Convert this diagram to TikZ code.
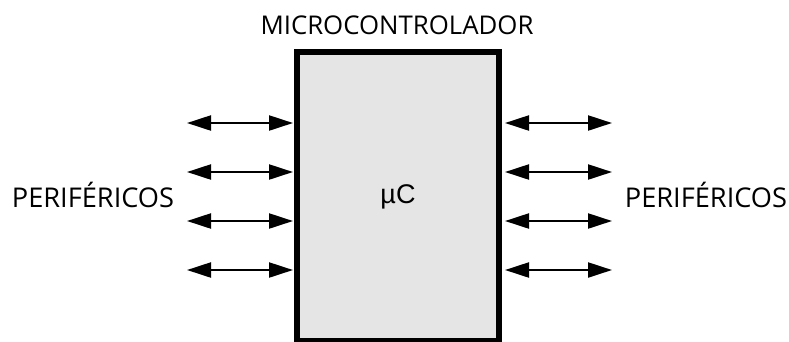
\documentclass[tikz,border=0pt]{standalone}
\usepackage{fontspec}
\setmainfont{Open Sans}
\newfontfamily\arialfont{Liberation Sans}
\usetikzlibrary{arrows.meta}
\begin{document}
\begin{tikzpicture}[x=1pt,y=-1pt,
  lbl/.style={inner sep=0pt},
  bus/.style={line width=2.2pt, {Triangle[length=24pt,width=15pt]}-{Triangle[length=24pt,width=15pt]}},
  mcbox/.style={draw=black, fill=black!10, line width=6pt, minimum width=202pt, minimum height=289pt, inner sep=0pt, font=\arialfont\fontsize{27}{30}\selectfont}]
\useasboundingbox (0,0) rectangle (789,341);
\node[mcbox] (mc) at (398,196.5) {µC};
\node[lbl, font=\fontsize{25.8}{30}\selectfont] (title) at (397,25) {MICROCONTROLADOR};
\node[lbl, font=\fontsize{27.2}{30}\selectfont] (pl) at (93,195) {PERIFÉRICOS};
\node[lbl, font=\fontsize{27.2}{30}\selectfont] (pr) at (706,195) {PERIFÉRICOS};
\foreach \i/\y in {1/123,2/172,3/221,4/270}{
  \coordinate (l\i) at (187,\y);
  \coordinate (lb\i) at (293,\y);
  \coordinate (r\i) at (612,\y);
  \coordinate (rb\i) at (505,\y);
  \draw[bus] (l\i) -- (lb\i);
  \draw[bus] (rb\i) -- (r\i);
}
\end{tikzpicture}
\end{document}
